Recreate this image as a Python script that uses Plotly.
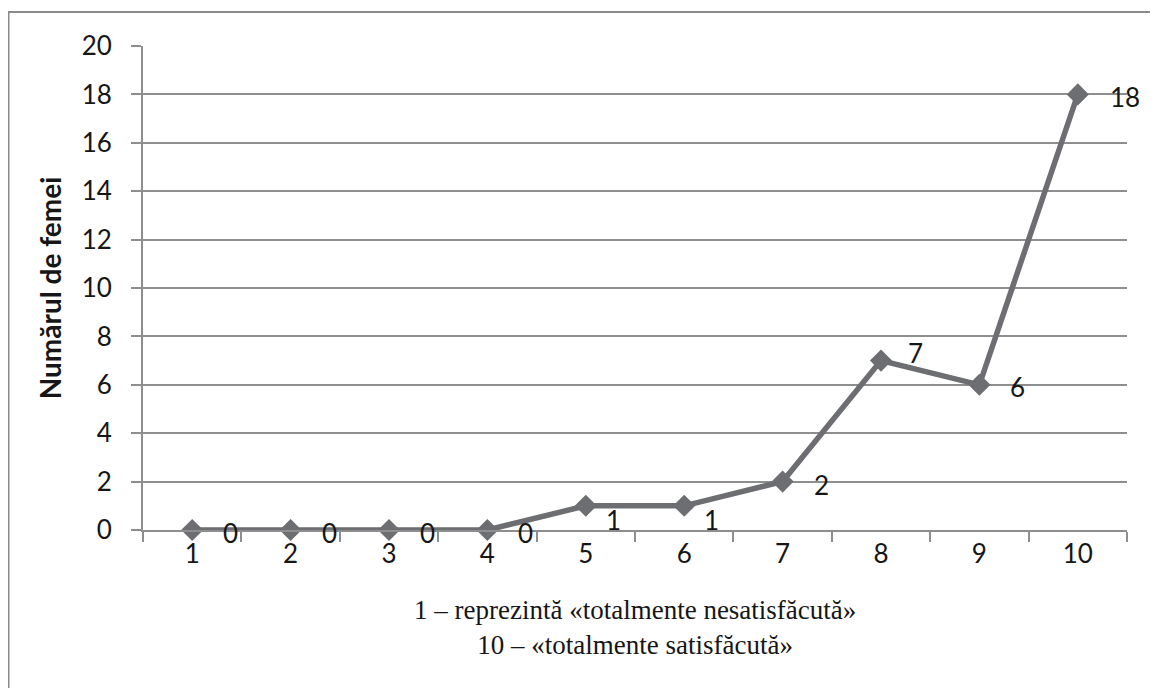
import plotly.graph_objects as go

categories = ["1", "2", "3", "4", "5", "6", "7", "8", "9", "10"]
values = [0, 0, 0, 0, 1, 1, 2, 7, 6, 18]
y_ticks = list(range(0, 21, 2))
y_title = "Numărul de femei"
x_title_lines = ["1 – reprezintă «totalmente nesatisfăcută»", "10 – «totalmente satisfăcută»"]

# label offsets (pixels) relative to each data point
label_dx = [29, 29, 29, 29, 18, 18, 29, 25, 29, 30]
label_dy = [-3, -3, -3, -3, -14, -14, -3, 8, -2, -3]

line_color = "#6d6e71"
grid_color = "#8e8e8e"
text_color = "#161616"
sans = "Lato, Open Sans, sans-serif"
serif = "Liberation Serif, Times New Roman, serif"

fig = go.Figure()
fig.add_trace(go.Scatter(
    x=categories, y=values,
    mode="lines+markers",
    line=dict(color=line_color, width=5.5),
    marker=dict(symbol="diamond", size=17, color=line_color),
    cliponaxis=False,
    showlegend=False,
))

W, H = 1150, 680
L, R, T, B = 135, 31, 38, 158
pw, ph = W - L - R, H - T - B

def px_x(p):
    return (p - L) / pw

def px_y(p):
    return (H - B - p) / ph

# data labels: x given as category index on the category axis
for i, (v, dx, dy) in enumerate(zip(values, label_dx, label_dy)):
    fig.add_annotation(x=i, y=v, text=str(v), showarrow=False,
                       xref="x", yref="y",
                       xanchor="left", yanchor="middle", xshift=dx, yshift=dy,
                       font=dict(family=sans, size=26, color=text_color))

fig.add_annotation(x=0.5, y=px_y(619), xref="paper", yref="paper",
                   text="<br>".join(x_title_lines), showarrow=False,
                   xanchor="center", yanchor="middle",
                   font=dict(family=serif, size=27, color=text_color))

fig.add_shape(type="rect", xref="paper", yref="paper",
              x0=px_x(0.5), x1=px_x(1170), y0=px_y(4), y1=px_y(700),
              line=dict(color="#8a8a8a", width=2), layer="below")

fig.update_layout(
    width=W, height=H,
    margin=dict(l=L, r=R, t=T, b=B),
    paper_bgcolor="white", plot_bgcolor="white",
    font=dict(family=sans, size=26, color=text_color),
)
fig.update_xaxes(
    type="category",
    categoryorder="array", categoryarray=categories,
    range=[-0.5, len(categories) - 0.5],
    tickson="boundaries",
    ticks="outside", ticklen=10, tickwidth=2, tickcolor=grid_color,
    showline=True, linecolor=grid_color, linewidth=2,
    showgrid=False,
    tickfont=dict(family=sans, size=26, color=text_color),
)
fig.update_yaxes(
    range=[0, 20], tickvals=y_ticks,
    ticks="outside", ticklen=10, tickwidth=2, tickcolor=grid_color,
    showline=True, linecolor=grid_color, linewidth=2,
    showgrid=True, gridcolor=grid_color, gridwidth=2,
    zeroline=False,
    ticklabelstandoff=14,
    tickfont=dict(family=sans, size=26, color=text_color),
    title=dict(text="<b>" + y_title + "</b>",
               font=dict(family=sans, size=28, color=text_color),
               standoff=12),
)

fig.write_html("out.html")
